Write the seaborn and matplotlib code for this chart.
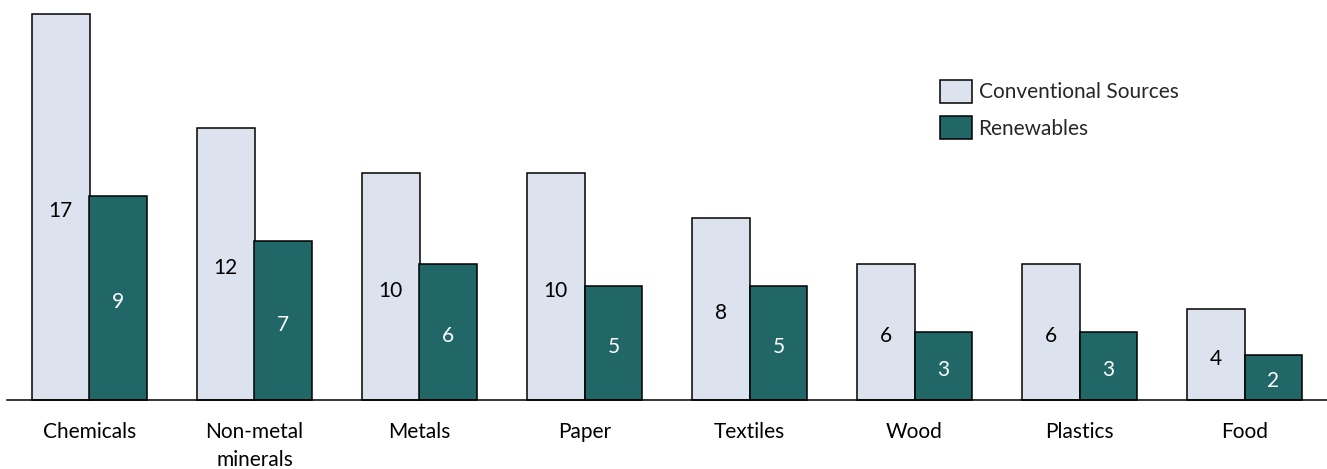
import matplotlib
matplotlib.use("Agg")
import matplotlib.pyplot as plt
import seaborn as sns
import pandas as pd

categories = ["Chemicals", "Non-metal\nminerals", "Metals", "Paper", "Textiles", "Wood", "Plastics", "Food"]
conventional = [17, 12, 10, 10, 8, 6, 6, 4]
renewables = [9, 7, 6, 5, 5, 3, 3, 2]
series_names = ["Conventional Sources", "Renewables"]
colors = ["#DDE3EE", "#216768"]

df = pd.DataFrame({
    "category": categories * 2,
    "value": conventional + renewables,
    "series": [series_names[0]] * len(categories) + [series_names[1]] * len(categories),
})

sns.set_theme(style="white")
plt.rcParams["font.family"] = ["Lato", "DejaVu Sans"]

fig = plt.figure(figsize=(13.27, 4.69), dpi=100)
ax = fig.add_axes([7 / 1327, 69 / 469, 1 - 7 / 1327, 1 - 14 / 469 - 69 / 469])

sns.barplot(data=df, x="category", y="value", hue="series", palette=colors, saturation=1,
            width=0.7, edgecolor="black", linewidth=1.1, ax=ax, gap=0)

for container, col in zip(ax.containers, ["#000000", "#FFFFFF"]):
    ax.bar_label(container, label_type="center", color=col, fontsize=15, padding=-3)
    for p in container:
        p.set_clip_on(False)

ax.set_xlim(-0.5, 7.5)
ax.set_ylim(0, 17)
ax.set_xlabel("")
ax.set_ylabel("")
ax.set_yticks([])
for s in ["top", "right", "left"]:
    ax.spines[s].set_visible(False)
ax.spines["bottom"].set_color("black")
ax.spines["bottom"].set_linewidth(1.1)
ax.tick_params(axis="x", length=0, pad=16, labelsize=15, colors="black")
for t in ax.get_xticklabels():
    t.set_verticalalignment("top")
    t.set_linespacing(1.5)

leg = ax.legend(loc="upper left", frameon=False, fontsize=15, handlelength=1.55, handleheight=1.3,
                labelspacing=0.65, handletextpad=0.3, borderaxespad=0, borderpad=0)
for h in leg.legend_handles:
    h.set_edgecolor("black")
    h.set_linewidth(1.1)
leg.set_bbox_to_anchor((940 / 1327, 1 - 80 / 469), transform=fig.transFigure)

fig.savefig("out.png", dpi=100)
